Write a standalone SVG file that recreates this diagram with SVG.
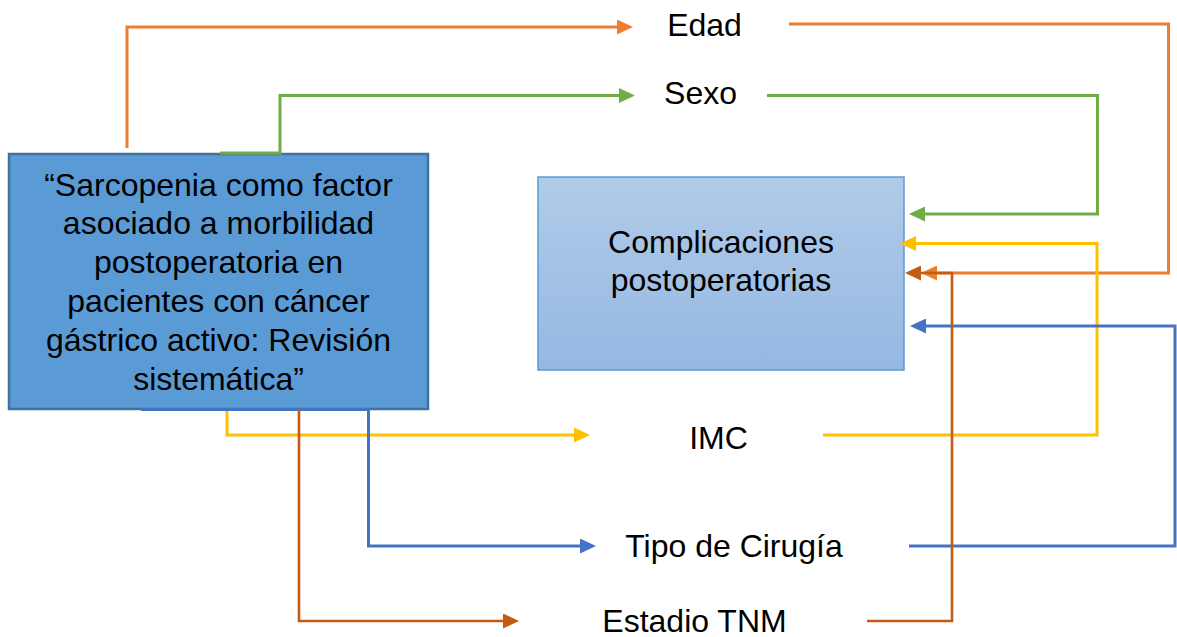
<svg xmlns="http://www.w3.org/2000/svg" width="1177" height="637" viewBox="0 0 1177 637">
  <defs>
    <linearGradient id="gradR" x1="0" y1="0" x2="0" y2="1">
      <stop offset="0" stop-color="#B1CBE9"/>
      <stop offset="1" stop-color="#95B8E2"/>
    </linearGradient>
    <marker id="aOr" markerUnits="userSpaceOnUse" markerWidth="16" markerHeight="15" refX="6" refY="7.5" orient="auto" viewBox="0 0 16 15"><path d="M0,0 L16,7.5 L0,15 z" fill="#ED7D31"/></marker>
    <marker id="aGr" markerUnits="userSpaceOnUse" markerWidth="16" markerHeight="15" refX="6" refY="7.5" orient="auto" viewBox="0 0 16 15"><path d="M0,0 L16,7.5 L0,15 z" fill="#70AD47"/></marker>
    <marker id="aYe" markerUnits="userSpaceOnUse" markerWidth="16" markerHeight="15" refX="6" refY="7.5" orient="auto" viewBox="0 0 16 15"><path d="M0,0 L16,7.5 L0,15 z" fill="#FFC000"/></marker>
    <marker id="aBl" markerUnits="userSpaceOnUse" markerWidth="16" markerHeight="15" refX="6" refY="7.5" orient="auto" viewBox="0 0 16 15"><path d="M0,0 L16,7.5 L0,15 z" fill="#4472C4"/></marker>
    <marker id="aBr" markerUnits="userSpaceOnUse" markerWidth="16" markerHeight="15" refX="6" refY="7.5" orient="auto" viewBox="0 0 16 15"><path d="M0,0 L16,7.5 L0,15 z" fill="#C55A11"/></marker>
  </defs>
  <style>
    text { font-family: "Liberation Sans", Arial, sans-serif; font-size: 32px; fill: #000; text-anchor: middle; }
    .c { fill: none; stroke-width: 3; stroke-linejoin: miter; }
    .or { stroke: #ED7D31; }
    .gr { stroke: #70AD47; }
    .ye { stroke: #FFC000; }
    .bl { stroke: #4472C4; }
    .br { stroke: #C55A11; stroke-width: 2.6; }
  </style>
  <rect width="1177" height="637" fill="#FFFFFF"/>

  <g id="node-complicaciones">
    <rect x="538" y="177" width="366" height="193" fill="url(#gradR)" stroke="#5B9BD5" stroke-width="1.5"/>
    <text x="721" y="253">Complicaciones</text>
    <text x="721" y="291">postoperatorias</text>
  </g>

  <g id="node-sarcopenia">
    <rect x="9" y="154" width="419" height="255" fill="#5B9BD5" stroke="#41719C" stroke-width="2.5"/>
    <text x="218.5" y="195.5">“Sarcopenia como factor</text>
    <text x="218.5" y="234.4">asociado a morbilidad</text>
    <text x="218.5" y="273.3">postoperatoria en</text>
    <text x="218.5" y="312.2">pacientes con cáncer</text>
    <text x="218.5" y="351.1">gástrico activo: Revisión</text>
    <text x="218.5" y="390">sistemática”</text>
  </g>

  <g id="connectors">
    <!-- Edad -->
    <path class="c or" d="M127,148 V27 H623" marker-end="url(#aOr)"/>
    <path class="c or" d="M789,24 H1168.5 V273 H931" marker-end="url(#aOr)"/>
    <!-- Sexo -->
    <path class="c gr" d="M220,153 H280 V95.5 H625" marker-end="url(#aGr)"/>
    <path class="c gr" d="M767,95.5 H1097.5 V214 H919" marker-end="url(#aGr)"/>
    <!-- IMC -->
    <path class="c ye" d="M227,409 V435 H580" marker-end="url(#aYe)"/>
    <path class="c ye" d="M823,435 H1097 V243.5 H910" marker-end="url(#aYe)"/>
    <!-- Tipo de Cirugía -->
    <path class="c bl" d="M141,409.5 H368.5 V546 H586" marker-end="url(#aBl)"/>
    <path class="c bl" d="M909,546 H1175 V326 H920" marker-end="url(#aBl)"/>
    <!-- Estadio TNM -->
    <path class="c br" d="M299,409 V621 H509" marker-end="url(#aBr)"/>
    <path class="c br" d="M867,621 H952 V273 H915" marker-end="url(#aBr)"/>
  </g>

  <g id="node-edad"><text x="704.5" y="36">Edad</text></g>
  <g id="node-sexo"><text x="700.5" y="104">Sexo</text></g>
  <g id="node-imc"><text x="718.5" y="449">IMC</text></g>
  <g id="node-tipo"><text x="734" y="557">Tipo de Cirugía</text></g>
  <g id="node-estadio"><text x="694.5" y="632">Estadio TNM</text></g>
</svg>
